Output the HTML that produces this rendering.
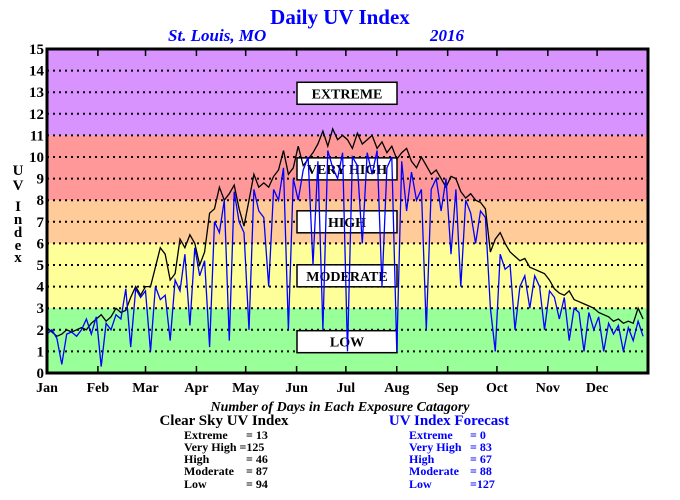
<!DOCTYPE html>
<html><head><meta charset="utf-8"><style>
body{margin:0;background:#fff;}
svg{display:block;font-family:"Liberation Serif",serif;}
</style></head><body>
<svg id="chart" width="680" height="500" xmlns="http://www.w3.org/2000/svg">
<text x="340" y="24" text-anchor="middle" font-size="21" font-weight="bold" fill="#0000ff">Daily UV Index</text>
<text x="168" y="41" font-size="17" font-weight="bold" font-style="italic" fill="#0000ff">St. Louis, MO</text>
<text x="430" y="41" font-size="17" font-weight="bold" font-style="italic" fill="#0000ff">2016</text>
<g id="bands"></g>
<g id="grid"></g>
<g id="boxes"></g>
<g id="series"></g>
<g id="axes"></g>
<g font-size="15" font-weight="bold" text-anchor="middle">
<text x="18" y="175">U</text><text x="18" y="190">V</text><text x="18" y="211">I</text><text x="18" y="224">n</text><text x="18" y="237">d</text><text x="18" y="250">e</text><text x="18" y="262">x</text>
</g>
<text x="340" y="411" text-anchor="middle" font-size="14" font-weight="bold" font-style="italic">Number of Days in Each Exposure Catagory</text>
<g font-weight="bold">
<text x="224" y="425" text-anchor="middle" font-size="15">Clear Sky UV Index</text>
<g font-size="12"><text x="184" y="439">Extreme</text><text x="246" y="439">=  13</text>
<text x="184" y="451">Very High =125</text>
<text x="184" y="463">High</text><text x="246" y="463">=  46</text>
<text x="184" y="475">Moderate</text><text x="246" y="475">=  87</text>
<text x="184" y="488">Low</text><text x="246" y="488">=  94</text></g>
</g>
<g font-weight="bold" fill="#0000ff">
<text x="449" y="425" text-anchor="middle" font-size="15">UV Index Forecast</text>
<g font-size="12"><text x="409" y="439">Extreme</text><text x="470" y="439">=    0</text>
<text x="409" y="451">Very High</text><text x="470" y="451">=  83</text>
<text x="409" y="463">High</text><text x="470" y="463">=  67</text>
<text x="409" y="475">Moderate</text><text x="470" y="475">=  88</text>
<text x="409" y="488">Low</text><text x="470" y="488">=127</text></g>
</g>
</svg>
<script>
const months=["Jan","Feb","Mar","Apr","May","Jun","Jul","Aug","Sep","Oct","Nov","Dec"];
const monthStarts=[0,31,60,91,121,152,182,213,244,274,305,335];
const yTicks=[0,1,2,3,4,5,6,7,8,9,10,11,12,13,14,15];
const bandLimits=[[0,3],[3,6],[6,8],[8,11],[11,15]];
const bandNames=["LOW","MODERATE","HIGH","VERY HIGH","EXTREME"];
const labelLevels=[1.45,4.5,7,9.45,12.95];
const sampleStep=3;
const clearSky=[2.1,1.9,1.7,1.8,2.0,1.9,2.0,2.1,2.0,2.3,2.5,
2.7,2.4,2.6,3.0,2.8,2.9,3.5,4.0,3.6,
4.0,4.0,4.9,5.8,5.5,4.3,4.6,6.2,5.8,6.4,
6.0,5.0,5.6,7.4,7.6,8.6,8.0,8.3,8.7,7.6,
6.8,8.0,9.2,8.6,8.8,8.6,9.1,9.4,10.3,9.2,
9.5,10.5,9.6,9.9,10.2,10.6,11.2,10.5,11.3,10.8,
11.0,10.8,10.4,11.1,10.6,10.8,11.0,10.4,10.7,10.2,
10.5,9.9,10.2,10.4,9.8,9.5,10.0,9.6,9.2,9.4,
9.0,8.6,9.1,9.0,8.4,8.1,8.3,8.0,7.9,7.6,
5.6,6.2,6.5,6.0,5.6,5.4,5.2,5.3,4.9,4.8,
4.7,4.6,4.3,3.9,3.7,3.6,3.8,3.4,3.3,3.2,
3.1,3.0,2.8,2.7,2.6,2.4,2.5,2.3,2.4,2.3,3.0,2.5];
const forecast=[1.8,2.0,1.6,0.4,1.8,1.9,1.7,2.0,2.5,1.8,2.6,
0.3,2.3,2.0,2.7,2.5,3.9,1.2,3.9,3.5,
3.8,1.0,4.0,3.4,3.6,1.5,4.3,3.8,5.5,2.2,
5.8,4.5,5.2,1.2,7.0,6.5,8.0,1.5,8.4,7.0,
6.5,2.0,8.5,7.5,7.2,4.0,8.5,8.0,9.5,2.0,
9.0,8.0,9.4,10.0,5.0,9.8,2.0,10.3,9.5,9.0,
10.2,1.0,10.0,9.6,6.0,10.2,9.2,10.3,4.0,9.5,
10.0,1.0,9.8,7.5,9.3,8.0,8.5,2.0,8.5,9.0,
7.5,9.0,5.5,8.5,4.0,8.0,7.4,6.0,7.5,7.2,
3.0,1.0,5.5,4.8,5.0,2.0,4.0,4.5,3.0,4.5,
4.0,2.0,3.8,3.5,2.5,3.5,1.5,3.0,2.8,1.0,
2.8,2.0,2.6,1.0,2.3,1.8,2.2,1.0,2.1,1.5,2.4,1.7];

const NS="http://www.w3.org/2000/svg";
const L=47,R=648,T=49,B=373,DAYS=366,YMAX=15;
const xs=d=>L+d*(R-L)/DAYS;
const ys=v=>B-v*(B-T)/YMAX;
function mk(tag,attrs,parent){const e=document.createElementNS(NS,tag);for(const k in attrs)e.setAttribute(k,attrs[k]);parent.appendChild(e);return e;}
const bandColors=["#99ff99","#ffff99","#ffcc99","#ff9999","#d993ff"];
const gB=document.getElementById("bands");
bandLimits.forEach((b,i)=>{
  const r=mk("rect",{x:L,y:ys(b[1]),width:R-L,height:ys(b[0])-ys(b[1]),fill:bandColors[i]},gB);
  
  
});
const gG=document.getElementById("grid");
yTicks.forEach(t=>{
  if(t>0&&t<YMAX){
    const l=mk("line",{x1:L,x2:R,y1:ys(t),y2:ys(t),stroke:"#000","stroke-width":2,"stroke-dasharray":"2 4"},gG);
    
    
  }
});
const gX=document.getElementById("boxes");
bandNames.forEach((n,i)=>{
  const cy=ys(labelLevels[i]);
  const r=mk("rect",{x:297,y:cy-11,width:100,height:22,fill:"#fff",stroke:"#000","stroke-width":1.5},gX);
  
  
  const t=mk("text",{x:347,y:cy+5,"text-anchor":"middle","font-size":14,"font-weight":"bold"},gX);
  t.textContent=n;
  
  
});
const gS=document.getElementById("series");
function line(arr,color,name){
  const pts=arr.map((v,i)=>xs(Math.min(i*sampleStep,DAYS-1)).toFixed(1)+","+ys(v).toFixed(1)).join(" ");
  const p=mk("polyline",{points:pts,fill:"none",stroke:color,"stroke-width":1.3},gS);
  
  
}
line(clearSky,"#000","clear-sky-line");
line(forecast,"#0000ff","forecast-line");
const gA=document.getElementById("axes");
const fr=mk("rect",{x:L,y:T,width:R-L,height:B-T,fill:"none",stroke:"#000","stroke-width":3},gA);


yTicks.forEach(t=>{
  const tx=mk("text",{x:44,y:ys(t)+5,"text-anchor":"end","font-size":15,"font-weight":"bold"},gA);
  tx.textContent=t;
  
  
});
months.forEach((m,i)=>{
  const x=xs(monthStarts[i]);
  if(i>0){
    mk("line",{x1:x,x2:x,y1:T,y2:T+7,stroke:"#000","stroke-width":1.5},gA);
    mk("line",{x1:x,x2:x,y1:B,y2:B-7,stroke:"#000","stroke-width":1.5},gA);
  }
  const tx=mk("text",{x:x,y:392,"text-anchor":"middle","font-size":14,"font-weight":"bold"},gA);
  tx.textContent=m;
  
  
});
</script>
</body></html>
